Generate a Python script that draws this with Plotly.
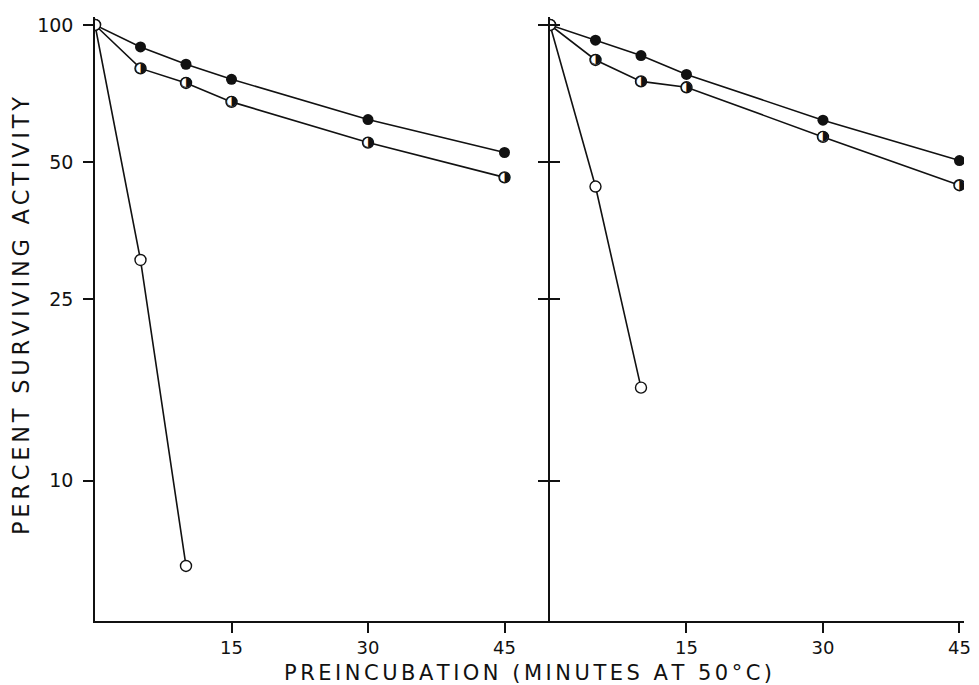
import plotly.graph_objects as go

# ---- data ----
minutes = [0, 5, 10, 15, 30, 45]
open_minutes = [0, 5, 10]

filled_left = [100, 89.5, 82, 76, 62, 52.5]
half_left = [100, 80.3, 74.6, 67.8, 55.2, 46.3]
open_left = [100, 30.5, 6.5]

filled_right = [100, 92.6, 85.7, 77.9, 61.8, 50.4]
half_right = [100, 83.8, 75.2, 73.0, 56.8, 44.5]
open_right = [100, 44.2, 16.0]

x_tick_vals = [15, 30, 45]
x_tick_text = ["15", "30", "45"]
y_tick_vals = [10, 25, 50, 100]
y_tick_text = ["10", "25", "50", "100"]

x_title = "PREINCUBATION (MINUTES AT 50°C)"
y_title = "PERCENT SURVIVING ACTIVITY"

FONT = "DejaVu Sans"
BLACK = "#111111"


def spaced(s, sep="\u2006"):
    return sep.join(s)


fig = go.Figure()


def add_panel(xa, ya, filled, half, opn):
    line = dict(color=BLACK, width=1.6)
    fig.add_trace(go.Scatter(x=minutes, y=filled, xaxis=xa, yaxis=ya, mode="lines+markers",
                             line=line, marker=dict(symbol="circle", size=11, color=BLACK),
                             showlegend=False, hoverinfo="skip"))
    fig.add_trace(go.Scatter(x=minutes, y=half, xaxis=xa, yaxis=ya, mode="lines+markers",
                             line=line,
                             marker=dict(symbol="circle", size=11, color="white",
                                         line=dict(color=BLACK, width=1.4)),
                             showlegend=False, hoverinfo="skip"))
    fig.add_trace(go.Scatter(x=minutes[1:], y=half[1:], xaxis=xa, yaxis=ya, mode="text",
                             text=["\u25D1"] * (len(minutes) - 1), textposition="middle center",
                             textfont=dict(family=FONT, size=14, color=BLACK),
                             showlegend=False, hoverinfo="skip"))
    fig.add_trace(go.Scatter(x=open_minutes, y=opn, xaxis=xa, yaxis=ya, mode="lines+markers",
                             line=line,
                             marker=dict(symbol="circle", size=11, color="white",
                                         line=dict(color=BLACK, width=1.4)),
                             showlegend=False, hoverinfo="skip"))


add_panel("x", "y", filled_left, half_left, open_left)
add_panel("x2", "y2", filled_right, half_right, open_right)
# helper trace for the inside ticks of the right panel axis
fig.add_trace(go.Scatter(x=[None], y=[None], xaxis="x2", yaxis="y3", mode="markers",
                         showlegend=False, hoverinfo="skip"))

yrange = [0.6921, 2.0175]
split = 455 / 869

common_x = dict(showgrid=False, zeroline=False, showline=True, linecolor=BLACK, linewidth=1.6,
                ticks="outside", ticklen=10, tickwidth=1.6, tickcolor=BLACK,
                tickvals=x_tick_vals, ticktext=x_tick_text,
                tickfont=dict(family=FONT, size=18, color=BLACK))
common_y = dict(type="log", range=yrange, showgrid=False, zeroline=False, showline=True,
                linecolor=BLACK, linewidth=1.6, tickvals=y_tick_vals, ticktext=y_tick_text,
                tickwidth=1.6, tickcolor=BLACK, ticklen=10,
                tickfont=dict(family=FONT, size=19, color=BLACK))

fig.update_layout(
    width=971, height=677,
    margin=dict(l=87, r=15, t=6, b=64),
    paper_bgcolor="white", plot_bgcolor="white",
    xaxis=dict(domain=[0, split], range=[0, 50], anchor="y", **common_x),
    xaxis2=dict(domain=[split, 1], range=[0, 45.5], anchor="y2", **common_x),
    yaxis=dict(anchor="x", ticks="outside", showticklabels=True, ticklabelstandoff=6, **common_y),
    yaxis2=dict(anchor="x2", ticks="outside", showticklabels=False, **common_y),
    yaxis3=dict(anchor="x2", overlaying="y2", type="log", range=yrange, showgrid=False,
                zeroline=False, showline=False, ticks="inside", ticklen=10, tickwidth=1.6,
                tickcolor=BLACK, tickvals=y_tick_vals, showticklabels=False),
    annotations=[
        dict(text=spaced(x_title), xref="paper", yref="paper", x=0.4977, y=-0.0855,
             xanchor="center", yanchor="middle", showarrow=False,
             font=dict(family=FONT, size=21, color=BLACK)),
        dict(text=spaced(y_title), xref="paper", yref="paper", x=-0.0846, y=0.5058,
             xanchor="center", yanchor="middle", showarrow=False, textangle=-90,
             font=dict(family=FONT, size=22.5, color=BLACK)),
    ],
)

fig.write_html("out.html")
